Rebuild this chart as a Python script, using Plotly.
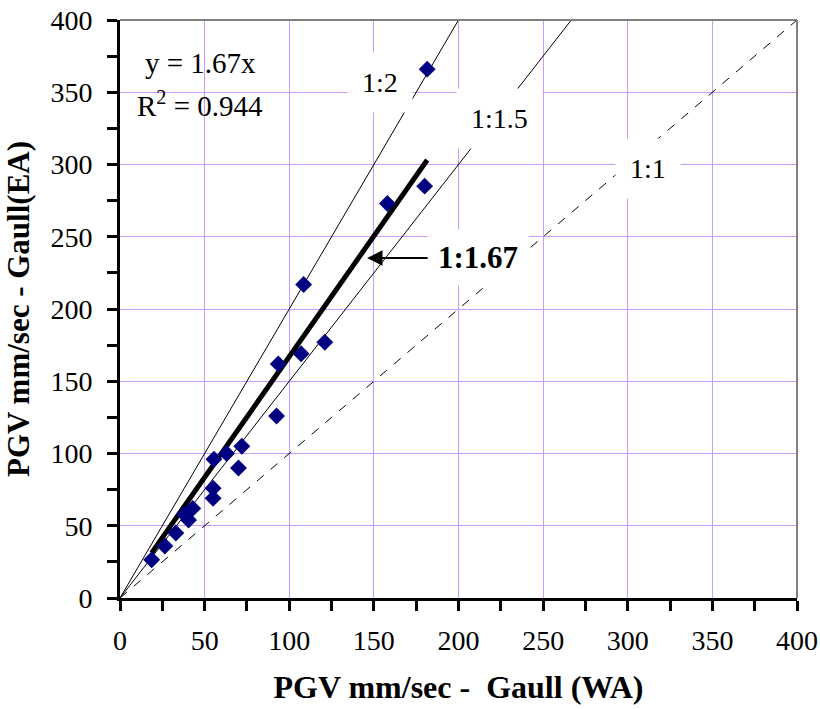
import plotly.graph_objects as go

# Data
wa = [18.7, 26.5, 33, 38, 40.5, 43, 55, 55, 55.5, 63, 70, 72, 92.5, 93.5, 107, 108.5, 121, 158, 180, 181.5]
ea = [26.5, 36, 45, 58, 54, 62, 69, 76, 96, 100, 90, 105, 126, 162, 169, 217, 177, 273, 285, 366]
trend_slope = 1.67
ref_ratios = [2.0, 1.5, 1.0]
ref_labels = ["1:2", "1:1.5", "1:1"]
ticks = [0, 50, 100, 150, 200, 250, 300, 350, 400]
AX_MAX = 400

FONT = "Liberation Serif"
GRID = "#cc99ff"

fig = go.Figure()

# reference ratio lines
for r in ref_ratios:
    xe = min(AX_MAX, AX_MAX / r)
    fig.add_trace(go.Scatter(
        x=[0, xe], y=[0, r * xe], mode="lines",
        line=dict(color="black", width=1, dash="dash" if r == 1.0 else "solid"),
        hoverinfo="skip", showlegend=False))

# trendline (through origin)
xmin, xmax = min(wa), max(wa)
fig.add_trace(go.Scatter(
    x=[xmin, xmax], y=[trend_slope * xmin, trend_slope * xmax], mode="lines",
    line=dict(color="black", width=5), showlegend=False))

# data points
fig.add_trace(go.Scatter(
    x=wa, y=ea, mode="markers",
    marker=dict(symbol="diamond", size=13, color="#000080"),
    showlegend=False))

axis_common = dict(
    range=[0, AX_MAX], tickvals=ticks, showgrid=True, gridcolor=GRID, gridwidth=1,
    zeroline=False, showline=True, linecolor="black", linewidth=3,
    ticks="outside", ticklen=10, tickwidth=3, tickcolor="black",
    minor=dict(dtick=25, ticks="outside", ticklen=10, tickwidth=3, tickcolor="black", showgrid=False),
    tickfont=dict(family=FONT, size=28, color="black"),
    automargin=False,
)

fig.update_xaxes(**axis_common, ticklabelstandoff=5,
                 title=dict(text="<b>PGV mm/sec -&nbsp; Gaull (WA)</b>",
                            font=dict(family=FONT, size=32, color="black"), standoff=22))
fig.update_yaxes(**axis_common, ticklabelstandoff=9,
                 title=dict(text="<b>PGV mm/sec - Gaull(EA)</b>",
                            font=dict(family=FONT, size=31, color="black"), standoff=12))

ann = []
lab_pos = {"1:2": (153.6, 357), "1:1.5": (224.5, 331.5), "1:1": (312, 297)}
for lab in ref_labels:
    x, y = lab_pos[lab]
    ann.append(dict(x=x, y=y, text=lab, showarrow=False, bgcolor="white",
                    borderpad=14, font=dict(family=FONT, size=28, color="black")))
ann.append(dict(x=146, y=235.3, ax=111, ay=0, text="<b>1:1.67</b>", showarrow=True,
                arrowhead=2, arrowsize=1.4, arrowwidth=2.2, arrowcolor="black",
                bgcolor="white", borderpad=10, standoff=0,
                font=dict(family=FONT, size=31, color="black")))
ann.append(dict(x=47.3, y=370, text="y = 1.67x", showarrow=False,
                font=dict(family=FONT, size=29, color="black")))
ann.append(dict(x=47.3, y=342, text="R<sup>2</sup> = 0.944", showarrow=False,
                font=dict(family=FONT, size=29, color="black")))

fig.update_layout(
    width=820, height=710,
    margin=dict(l=120, r=23, t=20, b=112),
    paper_bgcolor="white", plot_bgcolor="white",
    annotations=ann,
    shapes=[
        dict(type="line", xref="paper", yref="paper", x0=0, x1=1, y0=1, y1=1,
             line=dict(color="#808080", width=2)),
        dict(type="line", xref="paper", yref="paper", x0=1, x1=1, y0=0, y1=1,
             line=dict(color="#808080", width=2)),
    ],
    font=dict(family=FONT),
)

fig.write_html("out.html")
